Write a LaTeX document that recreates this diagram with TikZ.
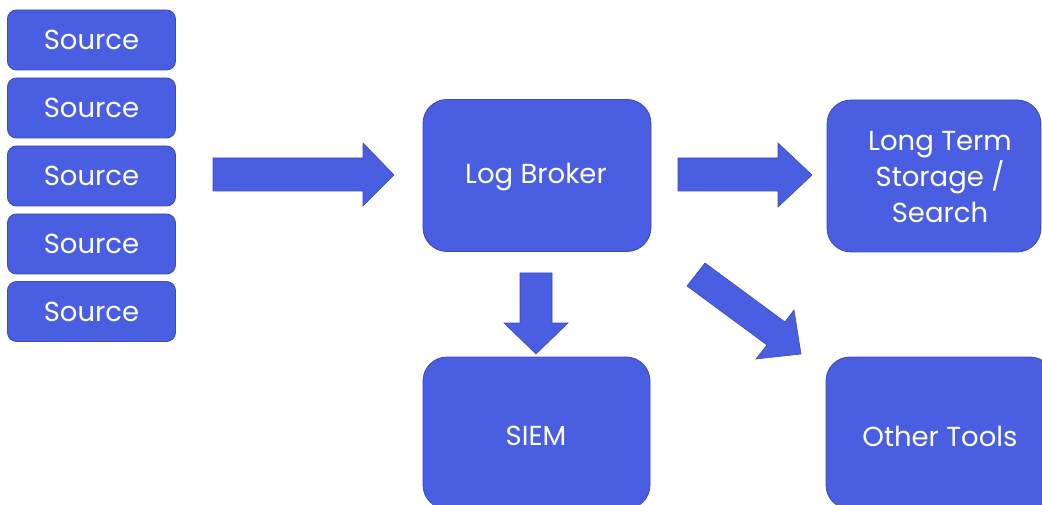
\documentclass[tikz,border=0pt]{standalone}
\usepackage{fontspec}
\setmainfont{Poppins}
\definecolor{boxfill}{RGB}{74,94,226}
\definecolor{boxline}{RGB}{58,74,185}
\begin{document}
\begin{tikzpicture}[x=1pt,y=-1pt,
  srcbox/.style={draw=boxline,fill=boxfill,line width=0.8pt,rounded corners=9pt,
    minimum width=168pt,minimum height=60pt,inner sep=0pt,text=white,font=\fontsize{27.5}{29}\selectfont},
  bigbox/.style={draw=boxline,fill=boxfill,line width=0.8pt,rounded corners=24pt,
    minimum width=228pt,minimum height=152pt,inner sep=0pt},
  lbl/.style={text=white,font=\fontsize{27.5}{36}\selectfont,align=center,inner sep=0pt},
  blockarrow/.style={draw=boxline,fill=boxfill,line width=0.6pt,line join=miter}]
\useasboundingbox (0,0) rectangle (1042,505);
\fill[white] (0,0) rectangle (1042,505);
\clip (0,0) rectangle (1042,505);
% sources
\node[srcbox] (s1) at (91.5,40) {Source};
\node[srcbox] (s2) at (91.5,108) {Source};
\node[srcbox] (s3) at (91.5,176) {Source};
\node[srcbox] (s4) at (91.5,244) {Source};
\node[srcbox] (s5) at (91.5,311.5) {Source};
% big boxes
\node[bigbox] (lb) at (537,175.5) {};
\node[lbl] (lbt) at (536,177) {Log Broker};
\node[bigbox,minimum width=214pt] (lt) at (934,176) {};
\node[lbl] (ltt) at (940,177) {Long Term\\Storage /\\Search};
\node[bigbox,minimum width=227pt] (siem) at (536.5,433) {};
\node[lbl] (siemt) at (536,436) {SIEM};
\node[bigbox,minimum width=228pt] (ot) at (940,433) {};
\node[lbl] (ott) at (940,436) {Other Tools};
% block arrows
\draw[blockarrow] (213,158) -- (363,158) -- (363,143) -- (394,175) -- (363,206) -- (363,191) -- (213,191) -- cycle;
\draw[blockarrow] (678,158) -- (778,158) -- (778,143) -- (812,175) -- (778,207) -- (778,191) -- (678,191) -- cycle;
\draw[blockarrow] (520,273) -- (552,273) -- (552,323) -- (568,323) -- (536,354) -- (504,323) -- (520,323) -- cycle;
\draw[blockarrow] (705,263) -- (785,322) -- (794,310) -- (801,354) -- (756,359) -- (767,345) -- (687,286) -- cycle;
\end{tikzpicture}
\end{document}
